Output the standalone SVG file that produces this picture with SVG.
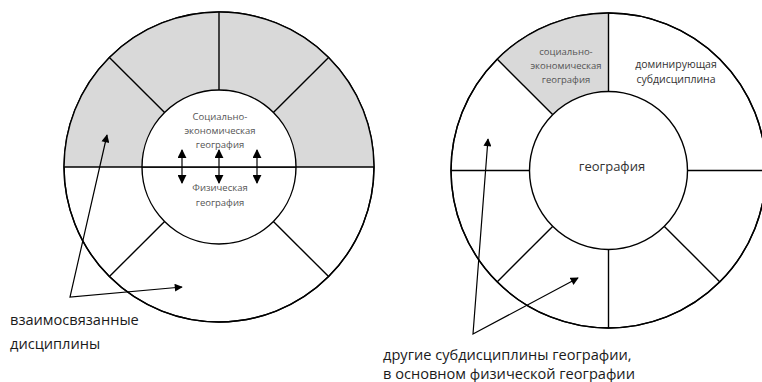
<svg xmlns="http://www.w3.org/2000/svg" width="762" height="382" viewBox="0 0 762 382">
<defs>
<style>
.ln{stroke:#000;stroke-width:1.4;fill:none}
.ring{stroke:#000;stroke-width:1.4;fill:#fff}
.grey{fill:#d9d9d9;stroke:none}
.small{font-family:"Open Sans","DejaVu Sans",sans-serif;font-size:9.5px;fill:#555;text-anchor:middle}
.mid{font-family:"Open Sans","DejaVu Sans",sans-serif;font-size:10.5px;fill:#333;text-anchor:middle}
.big{font-family:"Open Sans","DejaVu Sans",sans-serif;font-size:13px;fill:#333;text-anchor:middle}
.lab{font-family:"Open Sans","DejaVu Sans",sans-serif;font-size:14.6px;fill:#1a1a1a}
.ptr{stroke:#000;stroke-width:1.2;fill:none}
</style>
<marker id="ah" viewBox="0 0 10 10" refX="9" refY="5" markerWidth="9" markerHeight="9" markerUnits="userSpaceOnUse" orient="auto-start-reverse">
<path d="M0,0 L10,5 L0,10 Z" fill="#000"/>
</marker>
<marker id="ah2" viewBox="0 0 10 10" refX="9" refY="5" markerWidth="9" markerHeight="8" markerUnits="userSpaceOnUse" orient="auto-start-reverse">
<path d="M0,0 L10,5 L0,10 Z" fill="#000"/>
</marker>
</defs>
<rect width="762" height="382" fill="#fff"/>

<g id="left-diagram">
<circle class="ring" cx="219" cy="167" r="155"/>
<path class="grey" d="M64,167 A155 155 0 0 1 374,167 L296,167 A77 77 0 0 0 142,167 Z"/>
<circle class="ln" cx="219" cy="167" r="155"/>
<line class="ln" x1="64" y1="167" x2="374" y2="167"/>
<line class="ln" x1="219" y1="12" x2="219" y2="90"/>
<line class="ln" x1="109.4" y1="57.4" x2="164.6" y2="112.6"/>
<line class="ln" x1="328.6" y1="57.4" x2="273.4" y2="112.6"/>
<line class="ln" x1="109.4" y1="276.6" x2="164.6" y2="221.4"/>
<line class="ln" x1="328.6" y1="276.6" x2="273.4" y2="221.4"/>
</g>
<g id="left-core">
<path d="M142,167 A77 77 0 0 1 296,167 Z" fill="#fff" stroke="none"/>
<circle class="ln" cx="219" cy="167" r="77"/>
<line class="ln" x1="142" y1="167" x2="296" y2="167"/>
<text class="small" x="220" y="120">Социально-</text>
<text class="small" x="220" y="134">экономическая</text>
<text class="small" x="220" y="148">география</text>
<text class="small" x="220" y="191">Физическая</text>
<text class="small" x="220" y="206">география</text>
</g>

<g id="right-diagram">
<circle class="ring" cx="608.5" cy="170.5" r="157.5"/>
<path class="grey" d="M608.5,13 A157.5 157.5 0 0 0 497.1,59.1 L552.6,114.6 A79 79 0 0 1 608.5,91.5 Z"/>
<circle class="ln" cx="608.5" cy="170.5" r="157.5"/>
<line class="ln" x1="608.5" y1="13" x2="608.5" y2="91.5"/>
<line class="ln" x1="608.5" y1="249.5" x2="608.5" y2="328"/>
<line class="ln" x1="451" y1="170.5" x2="529.5" y2="170.5"/>
<line class="ln" x1="687.5" y1="170.5" x2="766" y2="170.5"/>
<line class="ln" x1="497.1" y1="59.1" x2="552.6" y2="114.6"/>
<line class="ln" x1="497.1" y1="281.9" x2="552.6" y2="226.4"/>
<line class="ln" x1="719.9" y1="281.9" x2="664.4" y2="226.4"/>
<text class="small" x="566" y="55">социально-</text>
<text class="small" x="566" y="69">экономическая</text>
<text class="small" x="566" y="83">география</text>
<text class="mid" x="676" y="68">доминирующая</text>
<text class="mid" x="676" y="83">субдисциплина</text>
</g>
<g id="right-core">
<circle class="ring" cx="608.5" cy="170.5" r="79"/>
<text class="big" x="612" y="171">география</text>
</g>

<g id="connectors">
<line class="ptr" x1="182" y1="150" x2="182" y2="183" marker-start="url(#ah)" marker-end="url(#ah)"/>
<line class="ptr" x1="219" y1="150" x2="219" y2="183" marker-start="url(#ah)" marker-end="url(#ah)"/>
<line class="ptr" x1="257" y1="150" x2="257" y2="183" marker-start="url(#ah)" marker-end="url(#ah)"/>
<polyline class="ptr" points="107,135 70,297 182,287" marker-start="url(#ah2)" marker-end="url(#ah2)"/>
<polyline class="ptr" points="488,139 473,334 578,278" marker-start="url(#ah2)" marker-end="url(#ah2)"/>
</g>

<g id="labels">
<text class="lab" x="10" y="325">взаимосвязанные</text>
<text class="lab" x="10" y="349">дисциплины</text>
<text class="lab" x="383" y="360">другие субдисциплины географии,</text>
<text class="lab" x="383" y="379">в основном физической географии</text>
</g>
</svg>
